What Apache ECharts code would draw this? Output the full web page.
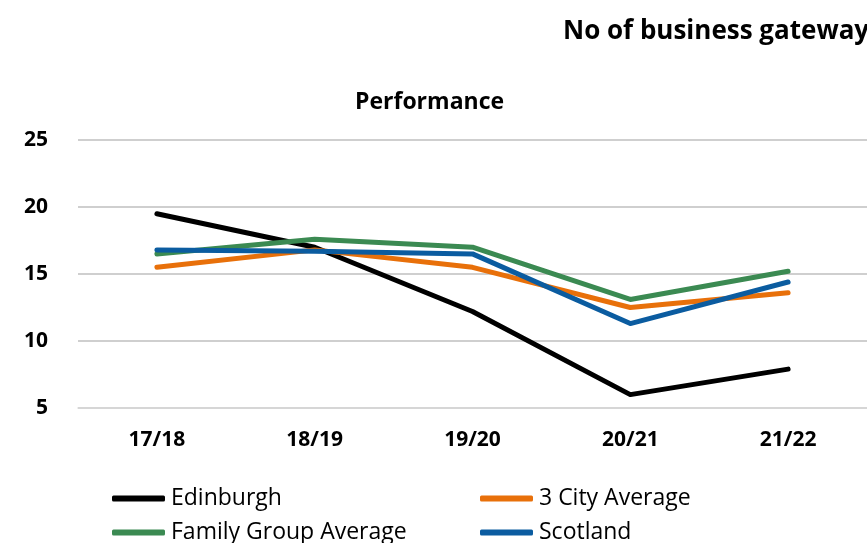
<!DOCTYPE html>
<html>
<head>
<meta charset="utf-8">
<script src="https://cdn.jsdelivr.net/npm/echarts@6/dist/echarts.min.js"></script>
<style>
  html, body { margin: 0; padding: 0; background: #fff; }
  #main { width: 867px; height: 543px; }
</style>
</head>
<body>
<div id="main"></div>
<script>
// data
const years = ['17/18', '18/19', '19/20', '20/21', '21/22'];
const edinburgh = [19.5, 17.0, 12.2, 6.0, 7.9];
const cityAverage = [15.5, 16.8, 15.5, 12.5, 13.6];
const familyGroup = [16.5, 17.6, 17.0, 13.1, 15.2];
const scotland = [16.8, 16.7, 16.5, 11.3, 14.4];

const seriesNames = ['Edinburgh', '3 City Average', 'Family Group Average', 'Scotland'];
const seriesColors = ['#000000', '#E8700A', '#3B8A52', '#0B5CA0'];

const font = 'Open Sans';

let chart = echarts.init(document.getElementById('main'));

function makeLine(name, values, color) {
    return {
        name: name, type: 'line', data: values, symbol: 'none', smooth: false,
        lineStyle: {color: color, width: 5, cap: 'round', join: 'round'},
        itemStyle: {color: color}
    };
}

function makeLegend(name, left, top) {
    return {
        data: [name], left: left, top: top, icon: 'roundRect',
        itemWidth: 53, itemHeight: 6, itemGap: 0, padding: 0,
        textStyle: {fontFamily: font, fontSize: 23, color: '#000', padding: [0, 0, 0, 1]}
    };
}

let option = {
    animation: false,
    title: [{
        text: 'No of business gateway', left: 558, top: 14,
        textStyle: {fontFamily: font, fontSize: 26, fontWeight: 'bold', color: '#000'}
    }, {
        text: 'Performance', left: 350, top: 86,
        textStyle: {fontFamily: font, fontSize: 23, fontWeight: 'bold', color: '#000'}
    }],
    legend: [
        makeLegend(seriesNames[0], 112, 487),
        makeLegend(seriesNames[1], 480, 487),
        makeLegend(seriesNames[2], 112, 521),
        makeLegend(seriesNames[3], 480, 521)
    ],
    // plot area runs past the right edge in the source
    grid: {left: 78, width: 795, top: 140, height: 268},
    xAxis: {
        type: 'category', data: years, boundaryGap: true,
        axisLine: {show: true, lineStyle: {color: '#D9D9D9', width: 1.5}},
        axisTick: {show: false},
        axisLabel: {fontFamily: font, fontSize: 21, fontWeight: 'bold', color: '#000', margin: 22}
    },
    yAxis: {
        type: 'value', min: 5, max: 25, interval: 5,
        axisLine: {show: false}, axisTick: {show: false},
        axisLabel: {fontFamily: font, fontSize: 21, fontWeight: 'bold', color: '#000', margin: 30},
        splitLine: {lineStyle: {color: '#BFBFBF', width: 1.5}}
    },
    series: [
        makeLine(seriesNames[0], edinburgh, seriesColors[0]),
        makeLine(seriesNames[1], cityAverage, seriesColors[1]),
        makeLine(seriesNames[2], familyGroup, seriesColors[2]),
        makeLine(seriesNames[3], scotland, seriesColors[3])
    ]
};

chart.setOption(option);
</script>
</body>
</html>
